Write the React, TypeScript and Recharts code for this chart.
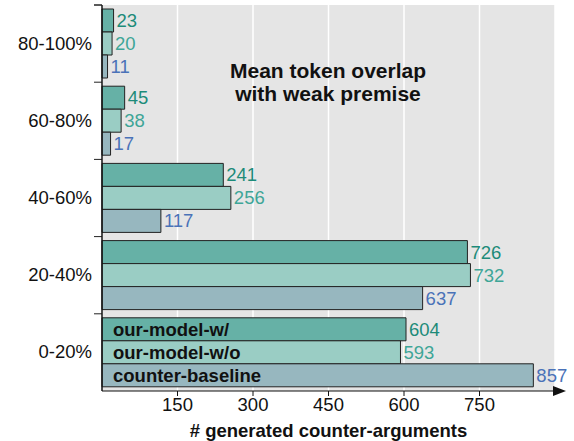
import React from 'react';
import { BarChart, Bar, XAxis, YAxis, CartesianGrid, LabelList } from 'recharts';

const ranges = ['80-100%', '60-80%', '40-60%', '20-40%', '0-20%'];
const withPremise = [23, 45, 241, 726, 604];
const withoutPremise = [20, 38, 256, 732, 593];
const baseline = [11, 17, 117, 637, 857];
const xTicks = [150, 300, 450, 600, 750];

const data = ranges.map((range, i) => ({
  range,
  w: withPremise[i],
  wo: withoutPremise[i],
  base: baseline[i],
}));

const series = [
  { key: 'w', name: 'our-model-w/', fill: '#66b1a6', text: '#1d8b79' },
  { key: 'wo', name: 'our-model-w/o', fill: '#9acdc4', text: '#3ea597' },
  { key: 'base', name: 'counter-baseline', fill: '#97b7bf', text: '#4a72b8' },
];

const FONT = '"Liberation Sans", Arial, sans-serif';
const BAND = (391 - 5) / ranges.length;

function RangeTick(props: any) {
  const { x, y, payload } = props;
  return (
    <g>
      <line x1={x + 2} x2={x + 10} y1={y - BAND / 2} y2={y - BAND / 2} stroke="#222" />
      <text x={x} y={y} dy={6} textAnchor="end" fontSize={18.5} fill="#111" fontFamily={FONT}>
        {payload.value}
      </text>
    </g>
  );
}

const makeLabel = (name: string, color: string) => (props: any) => {
  const { x, y, width, height, value, index } = props;
  const cy = y + height / 2;
  return (
    <g>
      <text x={x + width + 3} y={cy} dy={6.5} fontSize={18.5} fill={color} fontFamily={FONT}>
        {value}
      </text>
      {index === ranges.length - 1 && (
        <text x={x + 11} y={cy} dy={6.5} fontSize={18.5} fontWeight="bold" fill="#111" fontFamily={FONT}>
          {name}
        </text>
      )}
    </g>
  );
};

export default function App() {
  return (
    <div style={{ position: 'relative', width: 574, height: 441, fontFamily: FONT }}>
      <style>{'body{margin:0}'}</style>
      <BarChart
        width={574}
        height={441}
        data={data}
        layout="vertical"
        margin={{ top: 5, right: 19, left: 0, bottom: 0 }}
        barCategoryGap={4}
        barGap={0}
      >
        <CartesianGrid horizontal={false} stroke="#ffffff" strokeWidth={1.5} fill="#e5e5e5" />
        <XAxis
          type="number"
          domain={[0, 900]}
          ticks={xTicks}
          height={50}
          axisLine={{ stroke: '#111' }}
          tickLine={{ stroke: '#111' }}
          tickSize={5}
          tick={{ fontSize: 18.5, fill: '#111', fontFamily: FONT }}
          label={{
            value: '# generated counter-arguments',
            position: 'insideBottom',
            offset: 4,
            style: { fontSize: 18.5, fontWeight: 'bold', fill: '#111', fontFamily: FONT },
          }}
        />
        <YAxis
          type="category"
          dataKey="range"
          width={102}
          axisLine={{ stroke: '#111' }}
          tickLine={false}
          tickSize={8}
          tickMargin={2}
          tick={<RangeTick />}
        />
        {series.map((s) => (
          <Bar key={s.key} dataKey={s.key} name={s.name} fill={s.fill} stroke="#222" strokeWidth={1} isAnimationActive={false}>
            <LabelList dataKey={s.key} content={makeLabel(s.name, s.text)} />
          </Bar>
        ))}
      </BarChart>
      <svg width={574} height={441} style={{ position: 'absolute', left: 0, top: 0, pointerEvents: 'none' }}>
        <line x1={102} x2={102} y1={5} y2={391} stroke="#111" />
        <line x1={94} x2={102} y1={5} y2={5} stroke="#222" />
        <line x1={555} x2={560} y1={391} y2={391} stroke="#111" />
        <polygon points="553,386 566,391 553,396" fill="#111" />
        <text x={328} y={78} textAnchor="middle" fontSize={21} fontWeight="bold" fill="#111" fontFamily={FONT}>
          Mean token overlap
        </text>
        <text x={328} y={101} textAnchor="middle" fontSize={21} fontWeight="bold" fill="#111" fontFamily={FONT}>
          with weak premise
        </text>
      </svg>
    </div>
  );
}
